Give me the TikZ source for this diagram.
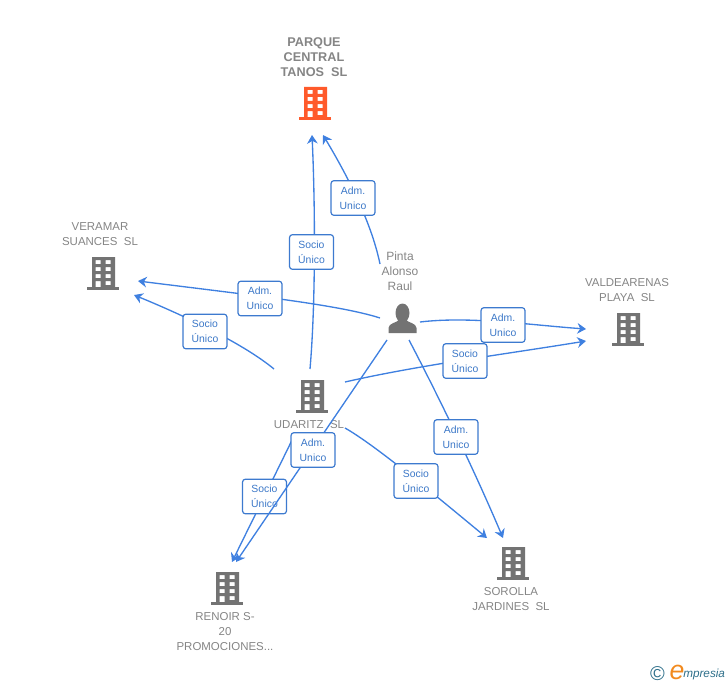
\documentclass[tikz,border=0pt]{standalone}
\usepackage{fontspec}
\setmainfont{Liberation Sans}
\usetikzlibrary{arrows.meta}
\usetikzlibrary{positioning}
\definecolor{linkblue}{HTML}{3F80E0}
\definecolor{labelblue}{HTML}{3C78C8}
\definecolor{iconorange}{HTML}{FF5A2B}
\definecolor{icongray}{HTML}{737373}
\definecolor{namegray}{HTML}{858585}
\definecolor{logoteal}{HTML}{2E6F8A}
\definecolor{logoorange}{HTML}{F28A1E}
\tikzset{flow/.style={draw=linkblue, line width=1pt, -{Stealth[length=6.5pt,width=8pt]}},
linkbox/.style={draw=labelblue!70!linkblue, line width=0.9pt, fill=white, rounded corners=2.2pt,
	text=labelblue, minimum width=33pt, minimum height=26pt, inner sep=0pt, align=center,
	font=\fontsize{7.8}{11.2}\selectfont},
firmname/.style={text=namegray, align=center, inner sep=0pt, font=\fontsize{8.6}{11.25}\selectfont},
bldg/.pic={
	\fill[even odd rule] (-11,-16) rectangle (12,14)
		(-7.5,-13) rectangle (-2.5,-9) (2.5,-13) rectangle (7.5,-9)
		(-7.5,-6) rectangle (-2.5,-2) (2.5,-6) rectangle (7.5,-2)
		(-7.5,1) rectangle (-2.5,5) (2.5,1) rectangle (7.5,5)
		(-7.5,8) rectangle (-2.5,15) (2.5,8) rectangle (7.5,12);
	\fill (-16,14) rectangle (16,17);
}}

\begin{document}
\begin{tikzpicture}[x=0.75pt, y=-0.75pt]
	\useasboundingbox (0,0) rectangle (728,685);

	\coordinate (parque) at (315,103);
	\coordinate (veramar) at (103,273);
	\coordinate (valdearenas) at (628,329);
	\coordinate (udaritz) at (312,396);
	\coordinate (sorolla) at (513,563);
	\coordinate (renoir) at (227,588);
	\coordinate (pinta) at (402,319);

	\pic[iconorange] at (parque) {bldg};
	\pic[icongray] at (veramar) {bldg};
	\pic[icongray] at (valdearenas) {bldg};
	\pic[icongray] at (udaritz) {bldg};
	\pic[icongray] at (sorolla) {bldg};
	\pic[icongray] at (renoir) {bldg};
	\fill[icongray, shift={(pinta)}] (0.5,-6) ellipse (7 and 9.5)
		(-13.5,14) -- (-13.5,9) .. controls (-13,4) and (-6,4) .. (-3,1) -- (4,1)
		.. controls (7,4) and (14,4) .. (14.5,9) -- (14.5,14) -- cycle;

	\node[firmname, font=\fontsize{9.5}{11.25}\selectfont] (parquename) at (314,57) {\textbf{PARQUE}\\\textbf{CENTRAL}\\\textbf{TANOS\ \ SL}};
	\node[firmname] (veramarname) at (100,234.5) {VERAMAR\\SUANCES\ \ SL};
	\node[firmname] (valdearenasname) at (627,290.5) {VALDEARENAS\\PLAYA\ \ SL};
	\node[firmname] (udaritzname) at (309,425) {UDARITZ\ \ SL};
	\node[firmname] (sorollaname) at (511,599.5) {SOROLLA\\JARDINES\ \ SL};
	\node[firmname] (renoirname) at (225,632) {RENOIR S-\\20\\PROMOCIONES...};
	\node[firmname, font=\fontsize{9}{11.25}\selectfont] (pintaname) at (400,271) {Pinta\\Alonso\\Raul};

	% pinta
	\draw[flow] ([shift={(-22,-55)}]pinta) .. controls (372,225) and (350,180) .. ([shift={(8,32)}]parque);
	\draw[flow] ([shift={(-22,-1)}]pinta) .. controls (340,305) and (250,295) .. ([shift={(35,8)}]veramar);
	\draw[flow] ([shift={(18,3)}]pinta) .. controls (470,316) and (530,325) .. ([shift={(-42,0)}]valdearenas);
	\draw[flow] ([shift={(7,21)}]pinta) .. controls (430,380) and (470,460) .. ([shift={(-10,-25)}]sorolla);

	% udaritz
	\draw[flow] ([shift={(-2,-27)}]udaritz) .. controls (316,300) and (315,200) .. ([shift={(-3,32)}]parque);
	\draw[flow] ([shift={(-38,-27)}]udaritz) .. controls (245,345) and (190,318) .. ([shift={(31,22)}]veramar);
	\draw[flow] ([shift={(33,-14)}]udaritz) .. controls (420,365) and (500,355) .. ([shift={(-42,12)}]valdearenas);
	\draw[flow] ([shift={(33,32)}]udaritz) .. controls (375,445) and (435,495) .. ([shift={(-26,-25)}]sorolla);
	\draw[flow] ([shift={(-19,42)}]udaritz) .. controls (280,465) and (255,515) .. ([shift={(5,-26)}]renoir);

	\node[linkbox] (socrenoir) at (264.5,496.5) {Socio\\Único};
	\draw[flow] ([shift={(-15,21)}]pinta) -- ([shift={(9,-26)}]renoir);

	\node[linkbox] (admparque) at (353,198) {Adm.\\Unico};
	\node[linkbox] (socparque) at (311.5,252) {Socio\\Único};
	\node[linkbox] (admveramar) at (260,298.5) {Adm.\\Unico};
	\node[linkbox] (socveramar) at (205,331.5) {Socio\\Único};
	\node[linkbox] (admvalde) at (503,325) {Adm.\\Unico};
	\node[linkbox] (socvalde) at (465,361) {Socio\\Único};
	\node[linkbox] (admsorolla) at (456,437) {Adm.\\Unico};
	\node[linkbox] (socsorolla) at (416,481) {Socio\\Único};
	\node[linkbox] (admrenoir) at (313,450) {Adm.\\Unico};

	% logo
	\node[text=logoteal, inner sep=0pt, font=\fontsize{15}{15}\selectfont] (logoc) at (657.5,674) {©};
	\node[text=logoorange, inner sep=0pt, font=\itshape\fontsize{20}{20}\selectfont] (logoe) at (677,672) {e};
	\node[text=logoteal, inner sep=0pt, anchor=west, font=\itshape\fontsize{8.8}{10}\selectfont] (logotext) at (683,674) {mpresia};
\end{tikzpicture}
\end{document}
